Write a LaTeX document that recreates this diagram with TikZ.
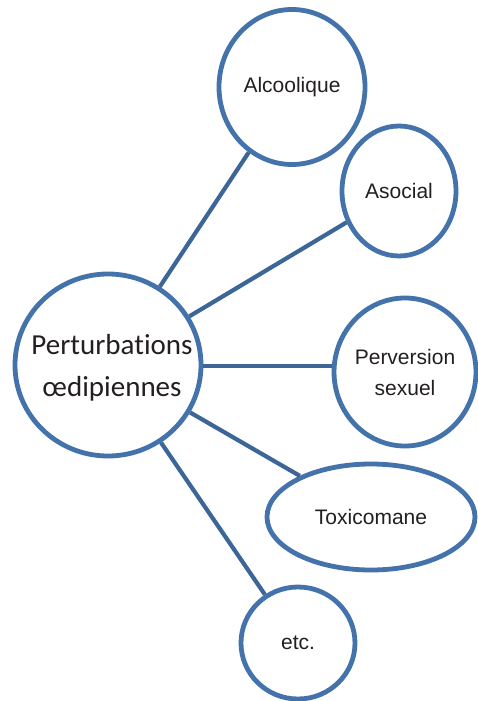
\documentclass[tikz,border=0pt]{standalone}
\usepackage{fontspec}
\setmainfont{Liberation Sans}
\newfontfamily\calibrifont[Ligatures=NoCommon]{Carlito}
\usetikzlibrary{shapes.geometric}
\definecolor{bubbleblue}{RGB}{68,114,170}
\definecolor{linkblue}{RGB}{60,101,152}
\definecolor{inkgray}{RGB}{35,31,32}

\begin{document}
\begin{tikzpicture}[x=1pt,y=-1pt,
  bubble/.style={ellipse,draw=bubbleblue,line width=4.8pt,fill=white,inner sep=0pt,
    text=inkgray,align=center,font=\fontsize{21}{31}\selectfont},
  link/.style={draw=linkblue,line width=4.2pt}]
\useasboundingbox (0,0) rectangle (478,701);
\node (perturb) [bubble,minimum width=186pt,minimum height=182pt,
  label={[text=inkgray,align=center,font=\calibrifont\fontsize{29}{42}\selectfont,xshift=4pt,yshift=-3pt]center:Perturbations\\œdipiennes}] at (108,365) {};
\node (alcool) [bubble,minimum width=146pt,minimum height=155pt] at (292,87) {Alcoolique};
\node (asocial) [bubble,minimum width=114pt,minimum height=130pt] at (399,191) {Asocial};
\node (perversion) [bubble,minimum width=140pt,minimum height=148pt] at (405,372) {Perversion\\sexuel};
\node (toxico) [bubble,minimum width=208pt,minimum height=106pt] at (371,517) {Toxicomane};
\node (etc) [bubble,minimum width=114pt,minimum height=112pt] at (298,643) {etc.};
\draw[link] (perturb) -- (alcool);
\draw[link] (perturb) -- (asocial);
\draw[link] (perturb.east |- 0,366) -- (perversion.west |- 0,366);
\draw[link] (perturb) -- (toxico);
\draw[link] (perturb) -- (etc);
\end{tikzpicture}
\end{document}
